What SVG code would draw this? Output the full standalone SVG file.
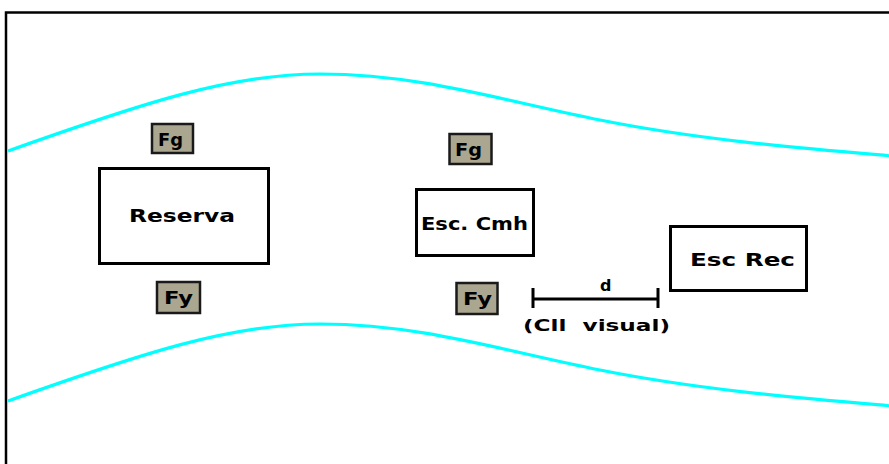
<svg xmlns="http://www.w3.org/2000/svg" width="889" height="464" viewBox="0 0 889 464">
  <style>
    .frame { fill: none; stroke: #000; stroke-width: 2.5; }
    .bank { fill: none; stroke: #00ffff; stroke-width: 3.2; }
    .box { fill: #fff; stroke: #000; stroke-width: 3; }
    .tag { fill: #aaa690; stroke: #1a1a1a; stroke-width: 2.5; }
    .lbl { font-family: "DejaVu Sans", "Liberation Sans", sans-serif; font-weight: bold; fill: #000; }
    .dim { fill: none; stroke: #000; stroke-width: 3; }
  </style>
  <defs>
    <path id="bank" d="M8,151 C140,104 230,74 320,74 C420,74 500,100 600,120 C700,140 800,148 892,156"/>
  </defs>
  <rect width="889" height="464" fill="#fff"/>

  <!-- outer frame: top and left edges -->
  <path class="frame" d="M6,464 V12.5 H889"/>

  <!-- channel banks -->
  <g id="banks">
    <use href="#bank" class="bank"/>
    <use href="#bank" class="bank" transform="translate(0,250)"/>
  </g>

  <g id="reserva">
    <rect class="box" x="99.5" y="168.5" width="169" height="95"/>
    <text class="lbl" x="129" y="222" font-size="17" textLength="106" lengthAdjust="spacingAndGlyphs">Reserva</text>
  </g>

  <g id="fg-left">
    <rect class="tag" x="152" y="124" width="41" height="29"/>
    <text class="lbl" x="158" y="146" font-size="17" textLength="25" lengthAdjust="spacingAndGlyphs">Fg</text>
  </g>

  <g id="fy-left">
    <rect class="tag" x="157" y="282" width="43" height="31"/>
    <text class="lbl" x="164" y="304" font-size="17" textLength="29" lengthAdjust="spacingAndGlyphs">Fy</text>
  </g>

  <g id="fg-mid">
    <rect class="tag" x="449.5" y="134" width="42" height="30"/>
    <text class="lbl" x="455" y="156" font-size="17" textLength="27" lengthAdjust="spacingAndGlyphs">Fg</text>
  </g>

  <g id="esc-cmh">
    <rect class="box" x="416.5" y="189.5" width="117" height="66"/>
    <text class="lbl" x="421" y="230" font-size="17" textLength="107" lengthAdjust="spacingAndGlyphs">Esc. Cmh</text>
  </g>

  <g id="fy-mid">
    <rect class="tag" x="456.5" y="283" width="41" height="31"/>
    <text class="lbl" x="463" y="305" font-size="17" textLength="29" lengthAdjust="spacingAndGlyphs">Fy</text>
  </g>

  <g id="esc-rec">
    <rect class="box" x="670.5" y="226.5" width="136" height="64"/>
    <text class="lbl" x="690" y="266" font-size="17" textLength="105" lengthAdjust="spacingAndGlyphs">Esc Rec</text>
  </g>

  <!-- distance marker -->
  <g id="connectors">
    <path class="dim" d="M532,299 H659 M533,288 V308 M658,288 V308"/>
    <text class="lbl" x="600" y="291" font-size="16">d</text>
    <text class="lbl" x="523" y="331" font-size="16" textLength="147" lengthAdjust="spacingAndGlyphs">(Cll&#160; visual)</text>
  </g>
</svg>
